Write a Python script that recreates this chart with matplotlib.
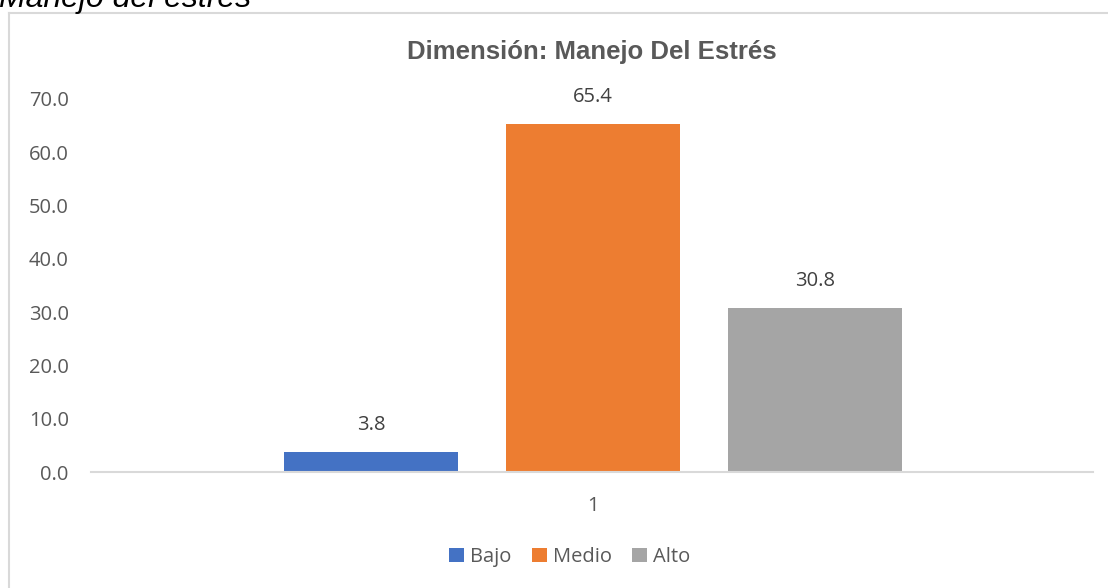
import matplotlib
matplotlib.use("Agg")
import matplotlib.pyplot as plt
from matplotlib.patches import Patch

# datos
categorias = ["Bajo", "Medio", "Alto"]
valores = [3.8, 65.4, 30.8]
colores = ["#4472C4", "#ED7D31", "#A5A5A5"]
etiqueta_x = ["1"]

plt.rcParams['font.family'] = ['Open Sans', 'DejaVu Sans']
gris = "#595959"

fig = plt.figure(figsize=(11.08, 5.88), dpi=100)
ax = fig.add_axes([91/1108, 1 - 472/588, 1002/1108, 373/588])

# marco del gráfico (solo visibles izquierda y arriba)
fig.add_artist(plt.Line2D([8.5/1108, 8.5/1108], [0, 1 - 13/588], color="#d9d9d9", lw=1.5))
fig.add_artist(plt.Line2D([8.5/1108, 1], [1 - 13/588, 1 - 13/588], color="#d9d9d9", lw=1.5))

# texto cortado arriba
fig.text(-1/1108, 1 - 7/588, "Manejo del estrés", fontsize=23, style="italic",
         family=["Liberation Sans"], va="baseline", ha="left", color="black")

pos = [-1, 0, 1]
barras = ax.bar(pos, valores, width=0.784, color=colores)
for x, v in zip(pos, valores):
    ax.annotate(f"{v:.1f}", (x, v), xytext=(0, 12), textcoords="offset points",
                ha="center", va="bottom", fontsize=14.5, color="#404040")

ax.set_xlim(-2.261, 2.252)
ax.set_ylim(0, 70)
ax.set_yticks(range(0, 71, 10))
ax.set_yticklabels([f"{t:.1f}" for t in range(0, 71, 10)])
ax.set_xticks([0])
ax.set_xticklabels(etiqueta_x)
ax.tick_params(length=0, labelsize=14.5, colors=gris)
ax.tick_params(axis="y", pad=16)
ax.tick_params(axis="x", pad=17)
for s in ["top", "right", "left"]:
    ax.spines[s].set_visible(False)
ax.spines["bottom"].set_color("#d9d9d9")
ax.spines["bottom"].set_linewidth(1.5)

fig.text(592/1108, 1 - 52/588, "Dimensión: Manejo Del Estrés", fontsize=18.5, fontweight="bold",
         family=["Liberation Sans"], color=gris, ha="center", va="center")

handles = [Patch(facecolor=c) for c in colores]
fig.legend(handles, categorias, loc="center", bbox_to_anchor=(570/1108, 1 - 557/588),
           ncol=3, frameon=False, fontsize=14.5, labelcolor=gris, handlelength=0.75,
           handleheight=0.75, handletextpad=0.3, columnspacing=1.0)

fig.savefig("out.png", dpi=100)
